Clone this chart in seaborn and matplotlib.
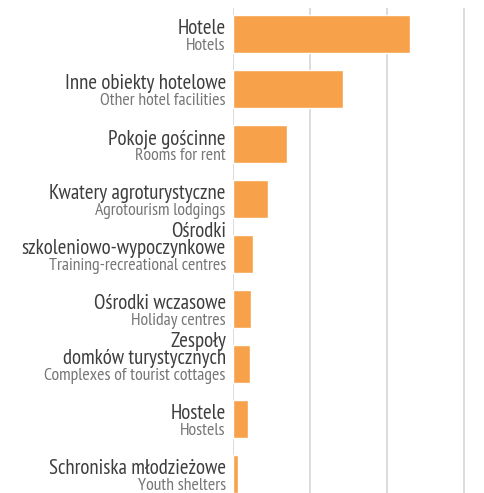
import matplotlib
matplotlib.use("Agg")
import matplotlib.pyplot as plt
import matplotlib.transforms as mtransforms
from matplotlib import font_manager as fm
import seaborn as sns
import pandas as pd

# Accommodation establishments by type (Polish / English labels)
labels_pl = [
    ["Hotele"],
    ["Inne obiekty hotelowe"],
    ["Pokoje gościnne"],
    ["Kwatery agroturystyczne"],
    ["Ośrodki", "szkoleniowo-wypoczynkowe"],
    ["Ośrodki wczasowe"],
    ["Zespoły", "domków turystycznych"],
    ["Hostele"],
    ["Schroniska młodzieżowe"],
]
labels_en = [
    "Hotels",
    "Other hotel facilities",
    "Rooms for rent",
    "Agrotourism lodgings",
    "Training-recreational centres",
    "Holiday centres",
    "Complexes of tourist cottages",
    "Hostels",
    "Youth shelters",
]
values = [22.95, 14.25, 6.97, 4.5, 2.56, 2.3, 2.17, 1.91, 0.61]
grid_ticks = [0, 10, 20, 30]

df = pd.DataFrame({"category": labels_en, "value": values})

sns.set_style("white")

# pick a narrow sans-serif face for the labels
installed = {f.name for f in fm.fontManager.ttflist}
preferred = ["PT Sans Narrow", "Roboto Condensed", "Fira Sans Condensed",
             "Open Sans Condensed", "Archivo Narrow", "Asap Condensed",
             "Encode Sans Condensed", "Liberation Sans Narrow"]
narrow = next((n for n in preferred if n in installed), "DejaVu Sans")
font_family = [narrow, "DejaVu Sans"]
plt.rcParams["font.family"] = font_family

DPI = 100
fig = plt.figure(figsize=(4.85, 4.93), dpi=DPI)
ax = fig.add_axes([233.3 / 485, 0.0, 1 - 233.3 / 485, 1 - 8 / 493])

bar_h = 0.685
sns.barplot(data=df, x="value", y="category", orient="h", color="#F7A14A",
            saturation=1, width=bar_h, ax=ax, zorder=3)

ax.set_xlim(0, 32.7)
ax.set_ylim(8.349, -0.469)
ax.set_xticks(grid_ticks)
ax.set_xticklabels([])
ax.set_yticks([])
ax.set_xlabel("")
ax.set_ylabel("")
ax.grid(axis="x", color="#dcdcdc", linewidth=1.4, zorder=0)
ax.grid(axis="y", visible=False)
ax.tick_params(length=0)
for side, sp in ax.spines.items():
    sp.set_visible(False)

# Two-language category labels to the left of the bars
trans = mtransforms.blended_transform_factory(ax.transAxes, ax.transData)
fs_pl = 15.0
fs_en = 12.8
for i, (pl_lines, en) in enumerate(zip(labels_pl, labels_en)):
    y = i + bar_h / 2
    ax.annotate(en, xy=(0, y), xycoords=trans, xytext=(-7.5, 3),
                textcoords="offset pixels", ha="right", va="baseline",
                fontsize=fs_en, color="#767676", family=font_family,
                annotation_clip=False)
    off = 3 + 15.5
    for line in reversed(pl_lines):
        ax.annotate(line, xy=(0, y), xycoords=trans, xytext=(-7.5, off),
                    textcoords="offset pixels", ha="right", va="baseline",
                    fontsize=fs_pl, color="#3d3d3d", family=font_family,
                    annotation_clip=False)
        off += 17.5

fig.savefig("out.png", dpi=DPI)
